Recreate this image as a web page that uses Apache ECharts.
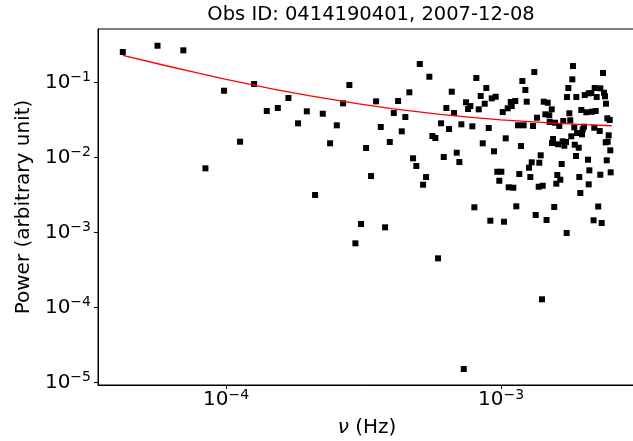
<!DOCTYPE html>
<html><head><meta charset="utf-8">
<script src="https://cdn.jsdelivr.net/npm/echarts@6/dist/echarts.min.js"></script>
<style>html,body{margin:0;padding:0;background:#fff}#c{width:633px;height:441px}</style>
</head><body><div id="c"></div>
<script>
const titleText = 'Obs ID: 0414190401, 2007-12-08';
const xNameSymbol = 'ν';
const xNameUnit = ' (Hz)';
const yName = 'Power (arbitrary unit)';
const xRange = [3.42e-5, 3.097e-3];
const yRange = [9.32e-6, 0.513];

const freq = [
4.21e-5, 5.63e-5, 6.99e-5, 8.41e-5, 9.83e-5, 1.124e-4, 1.264e-4, 1.406e-4, 1.542e-4, 1.685e-4,
1.827e-4, 1.966e-4, 2.107e-4, 2.247e-4, 2.389e-4, 2.527e-4, 2.664e-4, 2.808e-4, 2.953e-4, 3.097e-4,
3.229e-4, 3.367e-4, 3.512e-4, 3.652e-4, 3.787e-4, 3.939e-4, 4.073e-4, 4.223e-4, 4.355e-4, 4.487e-4,
4.64e-4, 4.786e-4, 4.92e-4, 5.063e-4, 5.206e-4, 5.338e-4, 5.487e-4, 5.627e-4, 5.77e-4, 5.901e-4,
6.051e-4, 6.189e-4, 6.326e-4, 6.47e-4, 6.618e-4, 6.747e-4, 6.901e-4, 7.054e-4, 7.172e-4, 7.318e-4,
7.46e-4, 7.586e-4, 7.734e-4, 7.864e-4, 7.997e-4, 8.132e-4, 8.297e-4, 8.436e-4, 8.58e-4, 8.724e-4,
8.842e-4, 9.022e-4, 9.143e-4, 9.251e-4, 9.43e-4, 9.565e-4, 9.694e-4, 9.858e-4, 1.0025e-3, 1.0144e-3,
1.0254e-3, 1.0401e-3, 1.0578e-3, 1.0666e-3, 1.0846e-3, 1.0937e-3, 1.1084e-3, 1.127e-3, 1.1364e-3, 1.153e-3,
1.1654e-3, 1.182e-3, 1.1955e-3, 1.209e-3, 1.226e-3, 1.240e-3, 1.264e-3, 1.278e-3, 1.293e-3, 1.3075e-3,
1.3215e-3, 1.337e-3, 1.352e-3, 1.371e-3, 1.378e-3, 1.394e-3, 1.4095e-3, 1.4175e-3, 1.430e-3, 1.449e-3,
1.464e-3, 1.4785e-3, 1.498e-3, 1.503e-3, 1.529e-3, 1.533e-3, 1.546e-3, 1.5615e-3, 1.572e-3, 1.589e-3,
1.602e-3, 1.612e-3, 1.629e-3, 1.643e-3, 1.662e-3, 1.676e-3, 1.684e-3, 1.699e-3, 1.723e-3, 1.733e-3,
1.738e-3, 1.757e-3, 1.772e-3, 1.786e-3, 1.801e-3, 1.817e-3, 1.827e-3, 1.847e-3, 1.854e-3, 1.874e-3,
1.879e-3, 1.890e-3, 1.917e-3, 1.926e-3, 1.943e-3, 1.959e-3, 1.970e-3, 1.982e-3, 2.004e-3, 2.016e-3,
2.043e-3, 2.072e-3, 2.084e-3, 2.084e-3, 2.095e-3, 2.130e-3, 2.143e-3, 2.170e-3, 2.184e-3, 2.191e-3,
2.210e-3, 2.228e-3, 2.257e-3, 2.285e-3, 2.297e-3, 2.297e-3, 2.324e-3, 2.349e-3, 2.369e-3, 2.389e-3,
2.403e-3, 2.409e-3, 2.424e-3, 2.436e-3, 2.443e-3, 2.464e-3, 2.485e-3, 2.497e-3, 2.505e-3
];

const power = [
0.2532, 0.3071, 0.2668, 7.16e-3, 0.0773, 0.01619, 0.0949, 0.04148, 0.04548, 0.0618,
0.02845, 0.0411, 3.157e-3, 0.0382, 0.01541, 0.02676, 0.0525, 0.0920, 7.18e-4, 1.298e-3,
0.01334, 5.65e-3, 0.0558, 0.0254, 1.173e-3, 0.01604, 0.0390, 0.0564, 0.02226, 0.0345,
0.0736, 9.73e-3, 7.69e-3, 0.1753, 4.33e-3, 5.48e-3, 0.1187, 0.01928, 0.01813, 4.53e-4,
0.02845, 0.01012, 0.04548, 0.02388, 0.0750, 0.0390, 0.01155, 8.68e-3, 0.02759, 1.522e-5,
0.0542, 0.0441, 0.0483, 0.02595, 2.166e-3, 0.1141, 0.0437, 0.0657, 0.01541, 0.0519,
0.0840, 0.02463, 1.436e-3, 0.0612, 0.01206, 0.0643, 6.45e-3, 4.89e-3, 6.45e-3, 0.0402,
1.392e-3, 0.01796, 0.0451, 4.00e-3, 0.0547, 0.0483, 3.95e-3, 0.0564, 2.233e-3, 0.02676,
6.01e-3, 0.01418, 0.1041, 0.02676, 0.0790, 0.0552, 7.29e-3, 5.48e-3, 8.61e-3, 0.02619,
0.1371, 1.71e-3, 0.0338, 4.07e-3, 8.50e-3, 0.01067, 1.290e-4, 4.20e-3, 0.0552, 0.0375,
1.467e-3, 0.0535, 0.0364, 0.0296, 0.0437, 0.01555, 0.01758, 2.185e-3, 0.0290, 4.47e-3,
5.83e-3, 0.01494, 0.02619, 5.05e-3, 8.17e-3, 0.01638, 0.0305, 0.01432, 0.01604, 9.85e-4,
0.0637, 0.0840, 0.0387, 0.0312, 0.0191, 0.1096, 0.1648, 0.02517, 0.01476, 0.01044,
0.0637, 0.02113, 0.01347, 5.48e-3, 3.36e-3, 0.0428, 0.0203, 0.02366, 0.02563, 0.0677,
0.0399, 9.32e-3, 0.0714, 4.38e-3, 6.73e-3, 0.0720, 0.0406, 1.454e-3, 0.02486, 0.0840,
0.04148, 0.0637, 2.22e-3, 0.02246, 0.0832, 5.88e-3, 1.338e-3, 0.1330, 0.0727, 0.0651,
0.01589, 0.0519, 9.15e-3, 0.0332, 0.01619, 0.01969, 0.0315, 0.01243, 6.33e-3
];

const fitFreq = [4.21e-5, 6e-5, 8e-5, 1e-4, 1.5e-4, 2e-4, 3e-4, 4e-4, 6e-4, 8e-4, 1e-3, 1.5e-3, 2e-3, 2.526e-3];
const fitPower = [0.229, 0.1675, 0.1314, 0.1097, 0.0808, 0.0664, 0.0519, 0.0447, 0.0375, 0.0338, 0.0317, 0.0288, 0.0273, 0.0264];

const FONT = 'DejaVu Sans';
function expLabel(v) {
  const e = Math.round(Math.log10(v));
  return '{b|10}{s|' + (e < 0 ? '\u2212' + (-e) : e) + '}';
}
const labelRich = {
  b: { fontFamily: FONT, fontSize: 20, lineHeight: 24, color: '#000' },
  s: { fontFamily: FONT, fontSize: 14, lineHeight: 12, verticalAlign: 'top', color: '#000' }
};

const chart = echarts.init(document.getElementById('c'), null, { renderer: 'canvas' });
chart.setOption({
  animation: false,
  backgroundColor: '#fff',
  title: {
    text: titleText, left: 366, top: 0, textAlign: 'center',
    textStyle: { fontFamily: FONT, fontSize: 19.5, fontWeight: 'normal', color: '#000' }
  },
  grid: {
    left: 98, right: -3, top: 29, bottom: 56, show: true,
    borderColor: '#000', borderWidth: 1, backgroundColor: 'transparent',
    containLabel: false, outerBoundsMode: 'none'
  },
  xAxis: {
    type: 'log', logBase: 10, min: xRange[0], max: xRange[1],
    name: '{i|' + xNameSymbol + '}{n|' + xNameUnit + '}', nameLocation: 'middle', nameGap: 33,
    nameTextStyle: {
      fontFamily: FONT, fontSize: 20, color: '#000',
      rich: {
        i: { fontFamily: FONT, fontSize: 20, fontStyle: 'italic', color: '#000' },
        n: { fontFamily: FONT, fontSize: 20, color: '#000' }
      }
    },
    axisLine: { show: true, onZero: false, lineStyle: { color: '#000', width: 1 } },
    axisTick: { show: true, length: 4, lineStyle: { color: '#000' } },
    axisLabel: { margin: 3, formatter: expLabel, rich: labelRich, showMinLabel: false, showMaxLabel: false },
    splitLine: { show: false }, minorTick: { show: false }
  },
  yAxis: {
    type: 'log', logBase: 10, min: yRange[0], max: yRange[1],
    name: yName, nameLocation: 'middle', nameGap: 64,
    nameTextStyle: { fontFamily: FONT, fontSize: 20, color: '#000' },
    axisLine: { show: true, onZero: false, lineStyle: { color: '#000', width: 1 } },
    axisTick: { show: true, length: 4, lineStyle: { color: '#000' } },
    axisLabel: { margin: 7, formatter: expLabel, rich: labelRich, showMinLabel: false, showMaxLabel: false },
    splitLine: { show: false }
  },
  series: [
    {
      type: 'scatter', symbol: 'rect', symbolSize: 6,
      itemStyle: { color: '#000', opacity: 1 },
      data: freq.map((f, i) => [f, power[i]]), z: 2
    },
    {
      type: 'line', showSymbol: false, symbol: 'none',
      lineStyle: { color: '#ff0000', width: 1.3 },
      data: fitFreq.map((f, i) => [f, fitPower[i]]), z: 3
    }
  ]
});
</script></body></html>
